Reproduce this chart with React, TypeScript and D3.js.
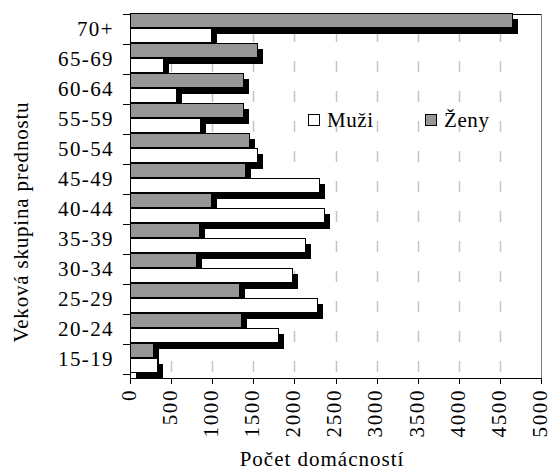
import React, { useEffect, useRef } from "react";
import * as d3 from "d3";

const categories = ["15-19", "20-24", "25-29", "30-34", "35-39", "40-44", "45-49", "50-54", "55-59", "60-64", "65-69", "70+"];
const muzi = [333, 1795, 2280, 1965, 2130, 2360, 2305, 1550, 850, 560, 400, 985];
const zeny = [285, 1355, 1330, 800, 845, 985, 1405, 1450, 1380, 1380, 1545, 4643];
const xTicks = [0, 500, 1000, 1500, 2000, 2500, 3000, 3500, 4000, 4500, 5000];
const seriesNames = ["Muži", "Ženy"];

const FONT = "'Liberation Serif', 'Times New Roman', serif";

const App = () => {
  const ref = useRef<SVGSVGElement>(null);

  useEffect(() => {
    const svg = d3.select(ref.current);
    svg.selectAll("*").remove();

    const left = 130, right = 541, top = 14, bottom = 374, axisY = 378;
    const x = d3.scaleLinear().domain([0, 5000]).range([left, right]);
    const y = d3.scaleBand().domain(categories.slice().reverse()).range([top, bottom]).paddingInner(0);
    const bh = 15;
    const sh = 6; // shadow offset

    const label = (sel: any, size: number, ls: number) =>
      sel.style("font-family", FONT).style("font-size", size + "px").style("letter-spacing", ls + "px");

    // gridlines
    svg.append("g")
      .selectAll("line")
      .data(xTicks.slice(1, -1))
      .join("line")
      .attr("x1", (d) => Math.round(x(d)) + 0.5)
      .attr("x2", (d) => Math.round(x(d)) + 0.5)
      .attr("y1", top + 17)
      .attr("y2", axisY)
      .attr("stroke", "#c4c4c4")
      .attr("stroke-width", 1.5)
      .attr("stroke-dasharray", "11,19");

    // plot frame: top + right
    svg.append("line").attr("x1", left).attr("x2", right + 1).attr("y1", top + 0.5).attr("y2", top + 0.5).attr("stroke", "#000");
    svg.append("line").attr("x1", right + 0.5).attr("x2", right + 0.5).attr("y1", top).attr("y2", axisY).attr("stroke", "#808080");

    const rows = categories.map((c, i) => ({ c, m: muzi[i], z: zeny[i] }));
    const bars = [
      ...rows.map((r) => ({ c: r.c, v: r.z, dy: -1, fill: "#969696" })),
      ...rows.map((r) => ({ c: r.c, v: r.m, dy: bh - 1, fill: "#ffffff" })),
    ];

    const g = svg.append("g").attr("shape-rendering", "crispEdges");

    // shadows first, bars on top
    g.selectAll("rect.shadow")
      .data(bars)
      .join("rect")
      .attr("class", "shadow")
      .attr("x", left + sh)
      .attr("y", (d) => (y(d.c) as number) + d.dy + sh)
      .attr("width", (d) => Math.round(x(d.v)) - left)
      .attr("height", bh)
      .attr("fill", "#000");

    g.selectAll("rect.bar")
      .data(bars)
      .join("rect")
      .attr("class", "bar")
      .attr("x", left + 0.5)
      .attr("y", (d) => (y(d.c) as number) + d.dy + 0.5)
      .attr("width", (d) => Math.round(x(d.v)) - left)
      .attr("height", bh - 1)
      .attr("fill", (d) => d.fill)
      .attr("stroke", "#000")
      .attr("stroke-width", 1);

    // left axis
    svg.append("line").attr("x1", left + 0.5).attr("x2", left + 0.5).attr("y1", top).attr("y2", axisY + 1).attr("stroke", "#000");
    svg.append("g")
      .selectAll("line")
      .data(d3.range(categories.length + 1))
      .join("line")
      .attr("x1", left - 7)
      .attr("x2", left)
      .attr("y1", (i) => top + i * y.bandwidth() + 0.5)
      .attr("y2", (i) => top + i * y.bandwidth() + 0.5)
      .attr("stroke", "#000");

    svg.append("g")
      .selectAll("text")
      .data(categories)
      .join("text")
      .attr("x", 114)
      .attr("y", (d) => (y(d) as number) + y.bandwidth() / 2)
      .attr("dy", "0.35em")
      .attr("text-anchor", "end")
      .call(label, 21, 1.4)
      .text((d) => d);

    // bottom axis
    svg.append("line").attr("x1", left).attr("x2", right + 1).attr("y1", axisY + 0.5).attr("y2", axisY + 0.5).attr("stroke", "#000");
    const xt = svg.append("g").selectAll("g").data(xTicks).join("g");
    xt.append("line")
      .attr("x1", (d) => Math.round(x(d)) + 0.5)
      .attr("x2", (d) => Math.round(x(d)) + 0.5)
      .attr("y1", axisY)
      .attr("y2", axisY + 6)
      .attr("stroke", "#000");
    xt.append("text")
      .attr("transform", (d) => `translate(${x(d) - 1.5},${389}) rotate(-90)`)
      .attr("dy", "0.35em")
      .attr("text-anchor", "end")
      .call(label, 21, 1.6)
      .text((d) => d);

    // titles
    svg.append("text")
      .attr("x", 322)
      .attr("y", 466)
      .attr("text-anchor", "middle")
      .call(label, 21, 1)
      .text("Počet domácností");
    svg.append("text")
      .attr("transform", "translate(28,222) rotate(-90)")
      .attr("text-anchor", "middle")
      .call(label, 21, 0.8)
      .text("Veková skupina prednostu");

    // legend
    const legend = svg.append("g").selectAll("g").data(seriesNames).join("g")
      .attr("transform", (d, i) => `translate(${i === 0 ? 308 : 425},114)`);
    legend.append("rect")
      .attr("x", 0.5).attr("y", 0.5).attr("width", 11).attr("height", 11)
      .attr("fill", (d, i) => (i === 0 ? "#ffffff" : "#969696"))
      .attr("stroke", "#000")
      .attr("shape-rendering", "crispEdges");
    legend.append("text")
      .attr("x", 19)
      .attr("y", 13)
      .call(label, 21, 0.6)
      .text((d) => d);
  });

  return (
    <div>
      <svg ref={ref} width={550} height={470} style={{ position: "absolute", left: 0, top: 0, background: "#fff" }}></svg>
    </div>
  );
};

export default App;
